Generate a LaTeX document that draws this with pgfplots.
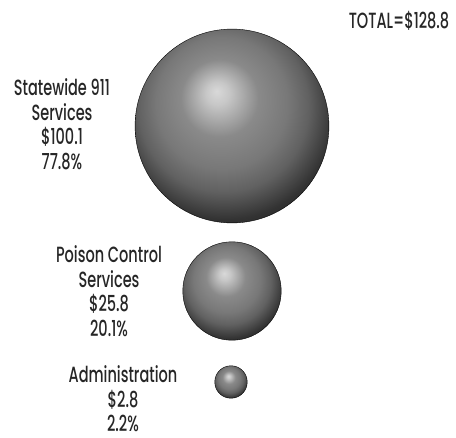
\documentclass[border=0pt]{standalone}
\usepackage{pgfplots}
\pgfplotsset{compat=1.18}
\usepackage{fontspec}
\setmainfont[FakeStretch=0.66]{Poppins Medium}

% soft grey sphere shading, highlight up and slightly left
% (the 25bp radius maps to the sphere edge)
\pgfdeclareradialshading{sphere}{\pgfpoint{-4bp}{9bp}}{%
  color(0bp)=(black!15);
  color(3bp)=(black!22);
  color(10bp)=(black!46);
  color(17bp)=(black!53);
  color(22bp)=(black!62);
  color(28bp)=(black!80);
  color(34bp)=(black!88);
  color(50bp)=(black!88)}

% shaded sphere used as plot mark
\pgfdeclareplotmark{sphere}{%
  \shade[shading=sphere] (0,0) circle (\pgfplotmarksize);%
}

\tikzset{lbl/.style={align=center, text=black!85,
    font=\fontsize{22bp}{24.5bp}\selectfont}}

\begin{document}
\begin{tikzpicture}
\begin{axis}[
    scale only axis,
    width=456bp, height=438bp,
    xmin=0, xmax=456, ymin=0, ymax=438,
    y dir=reverse,
    hide axis,
    clip=false,
]
% sphere area proportional to value: r = 9.73*sqrt(value)
\addplot[only marks, mark=sphere, mark size=97.3pt] coordinates {(232,126)};  % 100.1
\addplot[only marks, mark=sphere, mark size=49.4pt] coordinates {(232,291)};  % 25.8
\addplot[only marks, mark=sphere, mark size=16.3pt] coordinates {(231,382)};  % 2.8

\node[lbl] at (axis cs:62,124) {Statewide 911\\Services\\\$100.1\\77.8\%};
\node[lbl] at (axis cs:109,291) {Poison Control\\Services\\\$25.8\\20.1\%};
\node[lbl] at (axis cs:123,399) {Administration\\\$2.8\\2.2\%};
\node[lbl] at (axis cs:399,20.5) {TOTAL=\$128.8};

\path (rel axis cs:0,0) (rel axis cs:1,1);
\end{axis}
\end{tikzpicture}
\end{document}
